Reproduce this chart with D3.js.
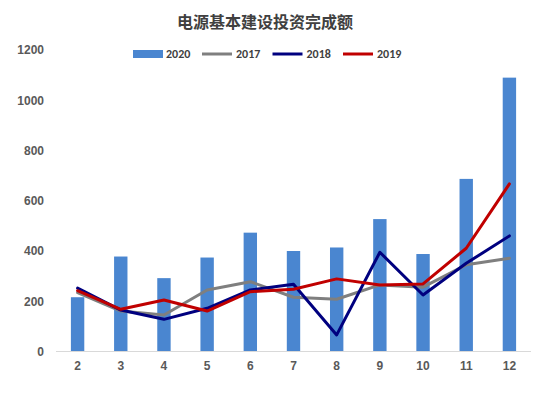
<!DOCTYPE html>
<meta charset="utf-8">
<style>
  body { margin: 0; background: #fff; }
  svg { font-family: Calibri, "Liberation Sans", "Noto Sans CJK SC", sans-serif; }
  .tick text { fill: #595959; font-size: 12px; font-weight: bold; }
  .legend text { fill: #404040; font-size: 12px; font-weight: bold; }
</style>
<body>
<svg width="550" height="394"></svg>
<script src="https://cdn.jsdelivr.net/npm/d3@7"></script>
<script>

var months = ["2", "3", "4", "5", "6", "7", "8", "9", "10", "11", "12"];
var bars2020 = [216, 378, 292, 374, 473, 400, 414, 527, 388, 687, 1090];
var line2017 = [234, 161, 145, 245, 278, 216, 208, 265, 256, 345, 371];
var line2018 = [252, 165, 128, 172, 245, 268, 66, 395, 225, 351, 460];
var line2019 = [242, 168, 205, 161, 238, 248, 289, 265, 269, 411, 667];
var yTicks = [0, 200, 400, 600, 800, 1000, 1200];

var series = [
  {name: "2017", values: line2017, color: "#7f7f7f"},
  {name: "2018", values: line2018, color: "#00007f"},
  {name: "2019", values: line2019, color: "#c00000"}
];
var barColor = "#4a86d0";

var svg = d3.select("svg");

var x = d3.scaleBand()
    .domain(months)
    .range([56, 531])
    .paddingInner(0.69)
    .paddingOuter(0.345);

var y = d3.scaleLinear()
    .domain([0, 1200])
    .range([351.5, 50]);

// title
svg.append("text")
    .attr("x", 265)
    .attr("y", 28)
    .attr("text-anchor", "middle")
    .attr("fill", "#404040")
    .attr("font-size", "16px")
    .attr("font-weight", "bold")
    .attr("font-family", "'Noto Sans CJK SC', sans-serif")
    .text("电源基本建设投资完成额");

// y axis labels only
var yAxis = svg.append("g")
    .attr("transform", "translate(44,0)")
    .call(d3.axisLeft(y).tickValues(yTicks).tickFormat(d3.format("d")).tickSize(0).tickPadding(0));
yAxis.select(".domain").remove();

// bars
svg.append("g")
  .selectAll("rect")
  .data(bars2020)
  .enter().append("rect")
    .attr("x", function(d, i) { return x(months[i]); })
    .attr("y", function(d) { return y(d); })
    .attr("width", x.bandwidth())
    .attr("height", function(d) { return y(0) - y(d); })
    .attr("fill", barColor);

// baseline
svg.append("line")
    .attr("x1", 56).attr("x2", 531)
    .attr("y1", y(0)).attr("y2", y(0))
    .attr("stroke", "#d9d9d9")
    .attr("stroke-width", 1);

// x axis labels
var xAxis = svg.append("g")
    .attr("transform", "translate(0," + (y(0) + 10) + ")")
    .call(d3.axisBottom(x).tickSize(0).tickPadding(0));
xAxis.select(".domain").remove();

// lines
var line = d3.line()
    .x(function(d, i) { return x(months[i]) + x.bandwidth() / 2; })
    .y(function(d) { return y(d); });

svg.append("g")
  .selectAll("path")
  .data(series)
  .enter().append("path")
    .attr("d", function(s) { return line(s.values); })
    .attr("fill", "none")
    .attr("stroke", function(s) { return s.color; })
    .attr("stroke-width", 3)
    .attr("stroke-linejoin", "round")
    .attr("stroke-linecap", "round");

// legend
var legend = svg.append("g").attr("class", "legend");
legend.append("rect")
    .attr("x", 133).attr("y", 50)
    .attr("width", 30).attr("height", 8)
    .attr("fill", barColor);
legend.append("text")
    .attr("x", 166).attr("y", 54).attr("dy", ".35em")
    .text("2020");

var lg = legend.selectAll(".item")
    .data(series)
  .enter().append("g")
    .attr("class", "item")
    .attr("transform", function(d, i) { return "translate(" + (202 + i * 70.5) + ",0)"; });
lg.append("line")
    .attr("x1", 0).attr("x2", 30)
    .attr("y1", 54).attr("y2", 54)
    .attr("stroke", function(d) { return d.color; })
    .attr("stroke-width", 3);
lg.append("text")
    .attr("x", 34).attr("y", 54).attr("dy", ".35em")
    .text(function(d) { return d.name; });

</script>
</body>
